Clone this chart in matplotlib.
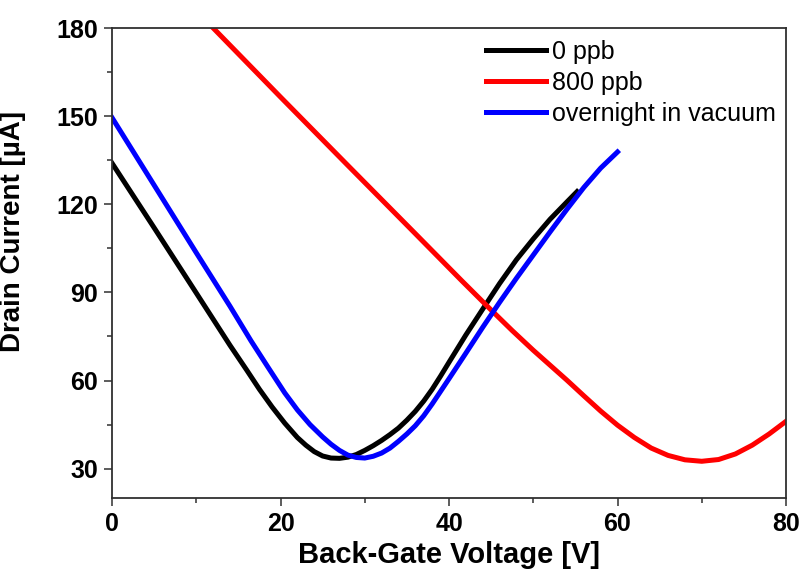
# Drain current vs back-gate voltage, three sweeps

import matplotlib as mp
mp.use("Agg")
import matplotlib.pyplot as plot
from matplotlib.ticker import MultipleLocator

# 0 ppb
v_0ppb = [0, 5, 10, 14, 16, 17.5, 19, 20.5, 22, 23, 24, 25, 26, 27, 28, 29, 30, 31, 32, 33,
          34, 35, 36, 37, 38, 39, 40, 42, 44, 46, 48, 50, 52, 54, 55.2]
i_0ppb = [134, 112, 89.8, 72, 63.5, 57, 51, 45.5, 40.6, 38, 35.8, 34.3, 33.6, 33.5, 33.9, 34.8, 36.2, 37.8, 39.6, 41.6,
          43.8, 46.5, 49.5, 53, 57, 61.5, 66.2, 75.5, 84.3, 93, 101.1, 108.2, 114.9, 120.8, 124.3]

# 800 ppb
v_800ppb = [11.5, 20, 28, 36, 41.5, 45, 47.5, 50, 52, 54, 56, 58, 60, 62, 64, 66, 68,
            70, 72, 74, 76, 78, 80]
i_800ppb = [181.5, 156.5, 133.2, 110, 94, 84, 77, 70.3, 65.2, 60.1, 54.8, 49.6, 44.8, 40.6, 37, 34.5, 33,
            32.5, 33.1, 35, 38, 41.8, 46.1]

# overnight in vacuum
v_vac = [0, 5, 10, 14, 16.5, 18.5, 20.5, 22, 23.5, 25, 26, 27, 28, 29, 30, 31, 32, 33, 34,
         35, 36, 37, 38, 40, 42, 44, 46, 48, 50, 52, 54, 56, 58, 60]
i_vac = [149.5, 126.5, 103.5, 85.3, 73.5, 64.6, 55.8, 50, 45, 40.8, 38.3, 36.2, 34.6, 33.8, 33.6, 34.2, 35.3, 37, 39.3,
         41.8, 44.6, 48, 52, 60.6, 69.3, 78.1, 86.6, 94.8, 102.7, 110.6, 118.3, 125.7, 132.3, 137.8]

labels = ["0 ppb", "800 ppb", "overnight in vacuum"]

axes_color = "#303030"
lw_line = 3.6

mp.rcParams.update({
  "font.family": ["Liberation Sans", "DejaVu Sans"],
  "axes.linewidth": 1.3,
  "axes.edgecolor": axes_color,
  "lines.solid_joinstyle": "round",
})

fig = plot.figure(figsize=(8.06, 5.74), dpi=100)
ax = fig.add_axes([112/806, 1-498/574, 674/806, 470/574])

ax.plot(v_0ppb, i_0ppb, color="#000000", linewidth=lw_line, label=labels[0])
ax.plot(v_800ppb, i_800ppb, color="#ff0000", linewidth=lw_line, label=labels[1])
ax.plot(v_vac, i_vac, color="#0000ff", linewidth=lw_line, label=labels[2])

ax.set_xlim(0, 80)
ax.set_ylim(20, 180)
ax.xaxis.set_major_locator(MultipleLocator(20))
ax.xaxis.set_minor_locator(MultipleLocator(10))
ax.yaxis.set_major_locator(MultipleLocator(30))
ax.yaxis.set_minor_locator(MultipleLocator(15))
ax.set_yticks([30, 60, 90, 120, 150, 180])

ax.tick_params(which="major", length=6, width=1.1, color=axes_color, pad=4)
ax.tick_params(which="minor", length=3.5, width=1.1, color=axes_color)
ax.tick_params(axis="x", which="major", pad=4)
for t in ax.get_xticklabels() + ax.get_yticklabels():
    t.set_fontsize(18)
    t.set_fontweight("bold")

ax.set_xlabel("Back-Gate Voltage [V]", fontsize=21, fontweight="bold", labelpad=4)
ax.set_ylabel("Drain Current [\u00b5A]", fontsize=20, fontweight="bold")
ax.yaxis.set_label_coords(-0.128, 0.566)

leg = ax.legend(loc="upper left", bbox_to_anchor=(486/806, 1-40/574),
                bbox_transform=fig.transFigure, frameon=False,
                fontsize=18, handlelength=2.4, handletextpad=0.25,
                labelspacing=0.28, borderpad=0, borderaxespad=0)

fig.savefig("out.png", dpi=100)
